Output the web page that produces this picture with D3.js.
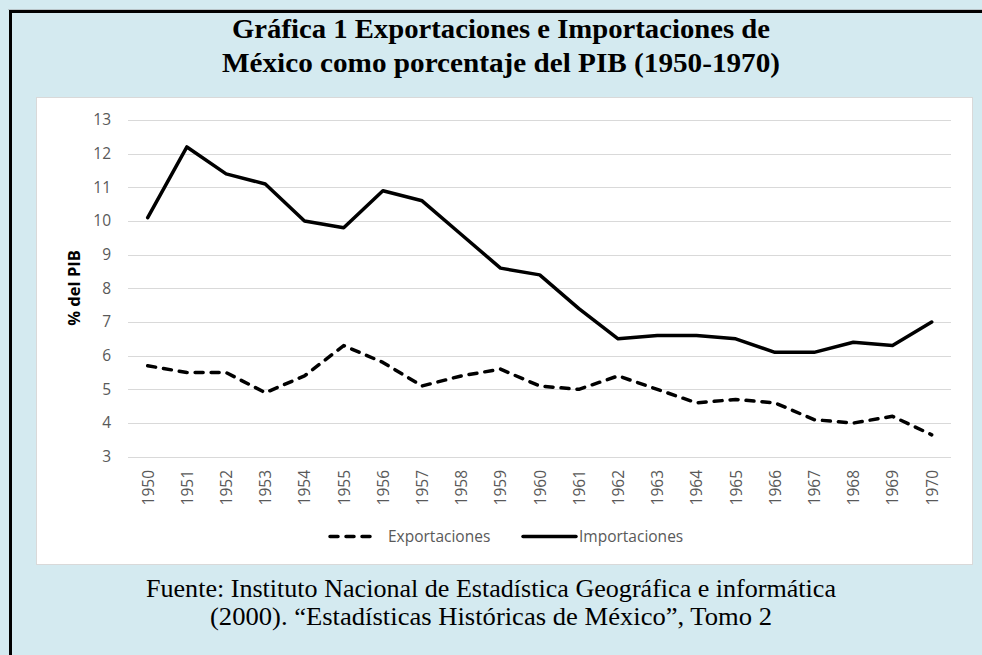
<!DOCTYPE html>
<html>
<head>
<meta charset="utf-8">
<script type="text/javascript" src="https://cdnjs.cloudflare.com/ajax/libs/d3/7.8.5/d3.min.js"></script>
<style>
	body { margin: 0; padding: 0; background: #d4eaf0; }
	svg { display: block; }
</style>
</head>
<body>
<div id="chart"></div>
<script type="text/javascript">
// data
var years = ["1950","1951","1952","1953","1954","1955","1956","1957","1958","1959","1960",
	"1961","1962","1963","1964","1965","1966","1967","1968","1969","1970"];
var exportaciones = [5.7,5.5,5.5,4.9,5.4,6.3,5.8,5.1,5.4,5.6,5.1,5.0,5.4,5.0,4.6,4.7,4.6,4.1,4.0,4.2,3.65];
var importaciones = [10.1,12.2,11.4,11.1,10.0,9.8,10.9,10.6,9.6,8.6,8.4,7.4,6.5,6.6,6.6,6.5,6.1,6.1,6.4,6.3,7.0];
var yTicks = [3,4,5,6,7,8,9,10,11,12,13];
var titleLines = ["Gráfica 1 Exportaciones e Importaciones de", "México como porcentaje del PIB (1950-1970)"];
var sourceLines = ["Fuente: Instituto Nacional de Estadística Geográfica e informática",
	"(2000). \u201CEstadísticas Históricas de México\u201D, Tomo 2"];
var seriesNames = ["Exportaciones", "Importaciones"];

var W = 982, H = 655;
var svg = d3.select("#chart").append("svg")
	.attr("width", W)
	.attr("height", H);

// background + frame
svg.append("rect").attr("width", W).attr("height", H).attr("fill", "#d4eaf0");
svg.append("line").attr("x1", 8).attr("x2", W).attr("y1", 9.5).attr("y2", 9.5)
	.attr("stroke", "#b9c4c8").attr("stroke-width", 1);
svg.append("line").attr("x1", 9).attr("x2", W).attr("y1", 11.5).attr("y2", 11.5)
	.attr("stroke", "#000").attr("stroke-width", 3);
svg.append("line").attr("x1", 10.5).attr("x2", 10.5).attr("y1", 10).attr("y2", H)
	.attr("stroke", "#000").attr("stroke-width", 3);

// title
var titleY = [38, 72], titleW = [538, 558];
titleLines.forEach(function(t, i) {
	svg.append("text")
		.attr("x", 501).attr("y", titleY[i])
		.attr("text-anchor", "middle")
		.attr("font-family", "'Liberation Serif', 'Times New Roman', serif")
		.attr("font-weight", "bold")
		.attr("font-size", 28)
		.attr("textLength", titleW[i])
		.attr("lengthAdjust", "spacingAndGlyphs")
		.attr("fill", "#000")
		.text(t);
});

// white chart area
svg.append("rect")
	.attr("x", 36.5).attr("y", 97.5).attr("width", 936).attr("height", 467)
	.attr("fill", "#fff").attr("stroke", "#d9d9d9").attr("stroke-width", 1);

var x = d3.scalePoint().domain(years).range([147.7, 931.7]);
var y = d3.scaleLinear().domain([3, 13]).range([456.7, 120]);

// gridlines
svg.append("g").selectAll("line").data(yTicks).enter().append("line")
	.attr("x1", 128).attr("x2", 951)
	.attr("y1", function(d) { return Math.round(y(d)) + 0.5; })
	.attr("y2", function(d) { return Math.round(y(d)) + 0.5; })
	.attr("stroke", "#d9d9d9").attr("stroke-width", 1.2);

// y axis labels
var yAxis = d3.axisLeft(y).tickValues(yTicks).tickSize(0).tickPadding(0);
var gy = svg.append("g").attr("transform", "translate(111,0)").call(yAxis);
gy.select(".domain").remove();
gy.selectAll("text")
	.attr("font-family", "'Open Sans', sans-serif").attr("font-size", 15.5)
	.attr("fill", "#595959");

// x axis labels
var xAxis = d3.axisBottom(x).tickSize(0).tickPadding(0);
var gx = svg.append("g").attr("transform", "translate(0,470)").call(xAxis);
gx.select(".domain").remove();
gx.selectAll("text")
	.attr("font-family", "'Open Sans', sans-serif").attr("font-size", 15.5)
	.attr("fill", "#595959")
	.attr("transform", "rotate(-90)")
	.attr("text-anchor", "end")
	.attr("x", 0).attr("y", 0).attr("dy", "0.35em");

// y title
svg.append("text")
	.attr("transform", "translate(80,288) rotate(-90)")
	.attr("text-anchor", "middle")
	.attr("font-family", "'Open Sans', sans-serif").attr("font-size", 16.5)
	.attr("font-weight", "bold").attr("fill", "#000")
	.text("% del PIB");

// lines
var line = d3.line()
	.x(function(d, i) { return x(years[i]); })
	.y(function(d) { return y(d); });

svg.append("path").datum(importaciones)
	.attr("d", line)
	.attr("fill", "none").attr("stroke", "#000").attr("stroke-width", 3.5)
	.attr("stroke-linejoin", "round").attr("stroke-linecap", "round");

svg.append("path").datum(exportaciones)
	.attr("d", line)
	.attr("fill", "none").attr("stroke", "#000").attr("stroke-width", 3.5)
	.attr("stroke-dasharray", "8,8")
	.attr("stroke-linejoin", "round").attr("stroke-linecap", "round");

// legend
var legY = 536.5;
var leg = [
	{ x1: 330, x2: 376, tx: 388, dash: "8,8" },
	{ x1: 523, x2: 576, tx: 579, dash: null }
];
leg.forEach(function(l, i) {
	var ln = svg.append("line")
		.attr("x1", l.x1).attr("x2", l.x2).attr("y1", legY).attr("y2", legY)
		.attr("stroke", "#000").attr("stroke-width", 3.5).attr("stroke-linecap", "round");
	if (l.dash) ln.attr("stroke-dasharray", l.dash);
	svg.append("text")
		.attr("x", l.tx).attr("y", legY).attr("dy", "0.35em")
		.attr("font-family", "'Open Sans', sans-serif").attr("font-size", 15.5)
		.attr("fill", "#595959")
		.text(seriesNames[i]);
});

// source
var srcY = [597, 625], srcW = [690, 562];
sourceLines.forEach(function(t, i) {
	svg.append("text")
		.attr("x", 491).attr("y", srcY[i])
		.attr("text-anchor", "middle")
		.attr("font-family", "'Liberation Serif', 'Times New Roman', serif")
		.attr("font-size", 25)
		.attr("textLength", srcW[i])
		.attr("lengthAdjust", "spacingAndGlyphs")
		.attr("fill", "#000")
		.text(t);
});
</script>
</body>
</html>
